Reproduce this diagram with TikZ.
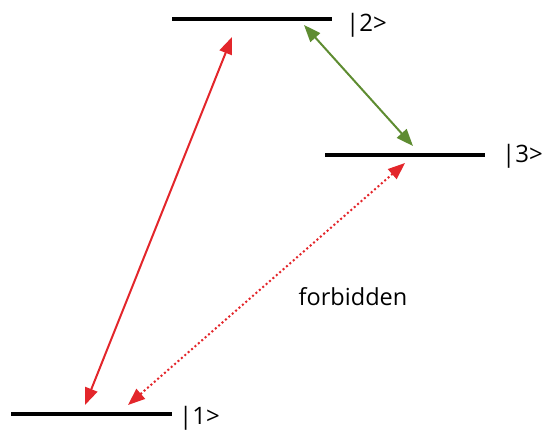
\documentclass[tikz,border=0pt]{standalone}
\usepackage{fontspec}
\setmainfont{Open Sans}
\usetikzlibrary{arrows.meta}
\definecolor{rot}{HTML}{E3262B}
\definecolor{gruen}{HTML}{5E8C31}

\begin{document}
\begin{tikzpicture}[x=1pt, y=-1pt,
        level/.style={line width=3.5pt},
        ket/.style={anchor=west, inner sep=0pt, font=\fontsize{24}{28}\selectfont},
        pfeil/.style={{Triangle[length=17pt, width=13pt]}-{Triangle[length=17pt, width=13pt]}, line width=2pt}
      ]
      \useasboundingbox (0,0) rectangle (542,430);

      % levels
      \coordinate (e2a) at (172,19);  \coordinate (e2b) at (332,19);
      \coordinate (e3a) at (325,155); \coordinate (e3b) at (485,155);
      \coordinate (e1a) at (11,414);  \coordinate (e1b) at (172,414);
      \draw[level] (e2a) -- (e2b);
      \draw[level] (e3a) -- (e3b);
      \draw[level] (e1a) -- (e1b);
      \node[ket] (k2) at (346,25)  {|2>};
      \node[ket] (k3) at (502,156) {|3>};
      \node[ket] (k1) at (179,418) {|1>};

      % transitions
      \coordinate (r1) at (85,405);  \coordinate (r2) at (232,37);
      \coordinate (g2) at (304,25);  \coordinate (g3) at (413,146);
      \coordinate (d1) at (128,405); \coordinate (d3) at (405,163);
      \draw[pfeil, rot] (r1) -- (r2);
      \draw[pfeil, gruen] (g2) -- (g3);
      \draw[pfeil, rot, dash pattern=on 2pt off 2.5pt] (d1) -- (d3);

      \node[font=\fontsize{23.5}{27}\selectfont] (verb) at (353,297) {forbidden};
    \end{tikzpicture}
\end{document}
